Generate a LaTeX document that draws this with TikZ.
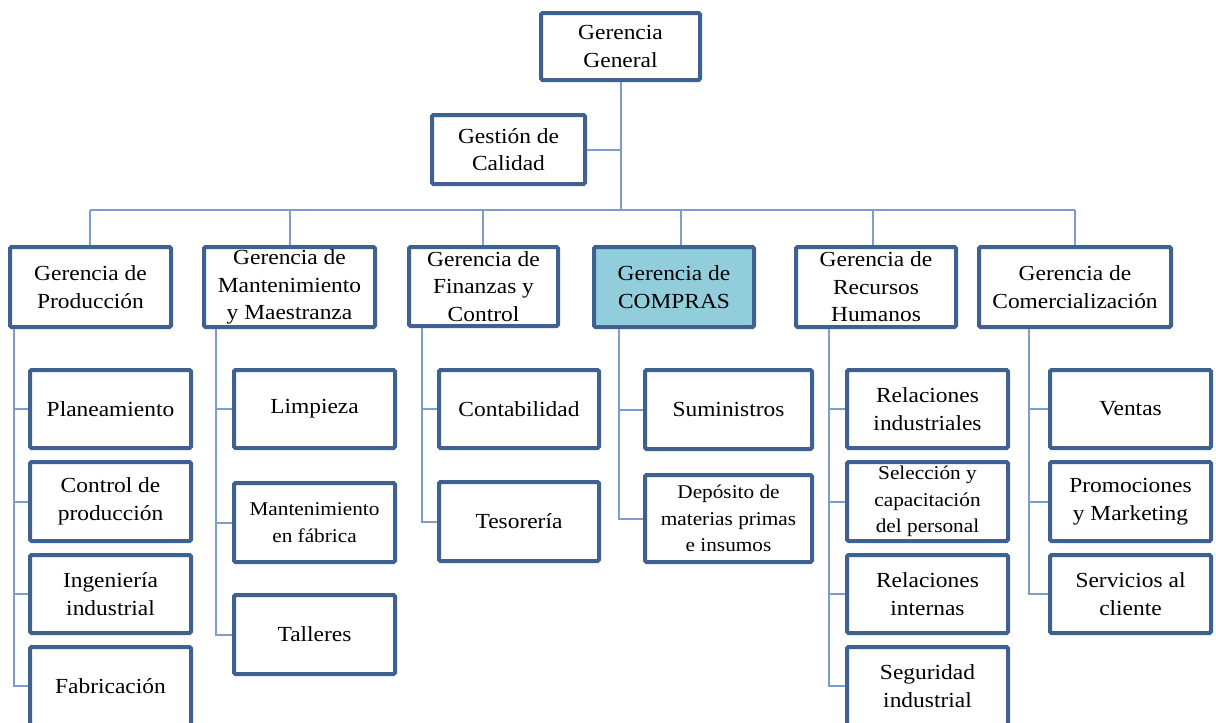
\documentclass[tikz,border=0pt]{standalone}
\usepackage{fontspec}
\setmainfont{Liberation Serif}[FakeStretch=1.09]
\newcommand{\bigfnt}{\fontsize{21.5}{27.5}\selectfont}
\newcommand{\smallfnt}{\fontsize{19.5}{26.5}\selectfont}
\definecolor{bord}{HTML}{3F6190}
\definecolor{conncol}{HTML}{7C9DCD}
\definecolor{aqua}{HTML}{92CDDC}
\tikzset{
  box/.style={draw=bord, line width=4pt, fill=white, rounded corners=1.5pt,
    inner sep=0pt, align=center, font=\bigfnt, text=black},
  smallbox/.style={font=\smallfnt},
  conn/.style={draw=conncol, line width=2pt}
}
\newcommand{\ob}[7][]{%
  \node[box,#1,minimum width={#4-#2-4},minimum height={#5-#3-4}] (#6)
    at ({(#2+#4)/2},{(#3+#5)/2}) {#7};}
\begin{document}
\begin{tikzpicture}[x=1pt,y=-1pt]
\useasboundingbox (0,0) rectangle (1216,723);
\clip (0,0) rectangle (1216,723);
\fill[white] (0,0) rectangle (1216,723);

% coordinates for bus and drops
\coordinate (dP) at (90,210);
\coordinate (dM) at (290,210);
\coordinate (dF) at (483,210);
\coordinate (dC) at (681,210);
\coordinate (dR) at (873,210);
\coordinate (dK) at (1075,210);
\coordinate (vP) at (14,0);
\coordinate (vM) at (216,0);
\coordinate (vF) at (422,0);
\coordinate (vC) at (619,0);
\coordinate (vR) at (829,0);
\coordinate (vK) at (1029,0);

% top boxes
\ob{539}{11}{702}{82}{GG}{Gerencia\\General}
\ob{430}{113}{587}{186}{GC}{Gestión de\\Calidad}

% level 2
\ob{8}{245}{173}{329}{P}{Gerencia de\\Producción}
\ob{202}{245}{377}{329}{M}{Gerencia de\\Mantenimiento\\y Maestranza}
\ob{407}{245}{560}{328}{F}{Gerencia de\\Finanzas y\\Control}
\ob[fill=aqua]{592}{245}{756}{329}{C}{Gerencia de\\COMPRAS}
\ob{794}{245}{958}{329}{R}{Gerencia de\\Recursos\\Humanos}
\ob{977}{245}{1173}{329}{K}{Gerencia de\\Comercialización}

% Produccion children
\ob{28}{368}{193}{450}{p1}{Planeamiento}
\ob{28}{460}{193}{543}{p2}{Control de\\producción}
\ob{28}{553}{193}{635}{p3}{Ingeniería\\industrial}
\ob{28}{645}{193}{727}{p4}{Fabricación}

% Mantenimiento children
\ob{232}{368}{397}{450}{m1}{Limpieza}
\ob[smallbox]{232}{481}{397}{564}{m2}{Mantenimiento\\en fábrica}
\ob{232}{593}{397}{676}{m3}{Talleres}

% Finanzas children
\ob{437}{368}{601}{450}{f1}{Contabilidad}
\ob{437}{480}{601}{563}{f2}{Tesorería}

% Compras children
\ob{643}{368}{814}{451}{c1}{Suministros}
\ob[smallbox]{643}{473}{814}{564}{c2}{Depósito de\\materias primas\\e insumos}

% RRHH children
\ob{845}{368}{1010}{450}{r1}{Relaciones\\industriales}
\ob[smallbox]{845}{460}{1010}{543}{r2}{Selección y\\capacitación\\del personal}
\ob{845}{553}{1010}{635}{r3}{Relaciones\\internas}
\ob{845}{645}{1010}{727}{r4}{Seguridad\\industrial}

% Comercializacion children
\ob{1048}{368}{1213}{450}{k1}{Ventas}
\ob{1048}{460}{1213}{543}{k2}{Promociones\\y Marketing}
\ob{1048}{553}{1213}{635}{k3}{Servicios al\\cliente}

% connectors
\draw[conn] (GG.south) -- (GG.south |- dP);
\draw[conn] (GC.east) -- (GC.east -| GG.south);
\draw[conn] (dP) -- (dK);
\foreach \d/\n in {dP/P,dM/M,dF/F,dC/C,dR/R,dK/K}{
  \draw[conn] (\d) -- (\d |- \n.north);
}
\foreach \v/\n/\c in {vP/P/p1,vP/P/p2,vP/P/p3,vP/P/p4,
                      vM/M/m1,vM/M/m2,vM/M/m3,
                      vF/F/f1,vF/F/f2,
                      vC/C/c1,vC/C/c2,
                      vR/R/r1,vR/R/r2,vR/R/r3,vR/R/r4,
                      vK/K/k1,vK/K/k2,vK/K/k3}{
  \draw[conn] (\n.south -| \v) |- (\c.west);
}
\end{tikzpicture}
\end{document}
